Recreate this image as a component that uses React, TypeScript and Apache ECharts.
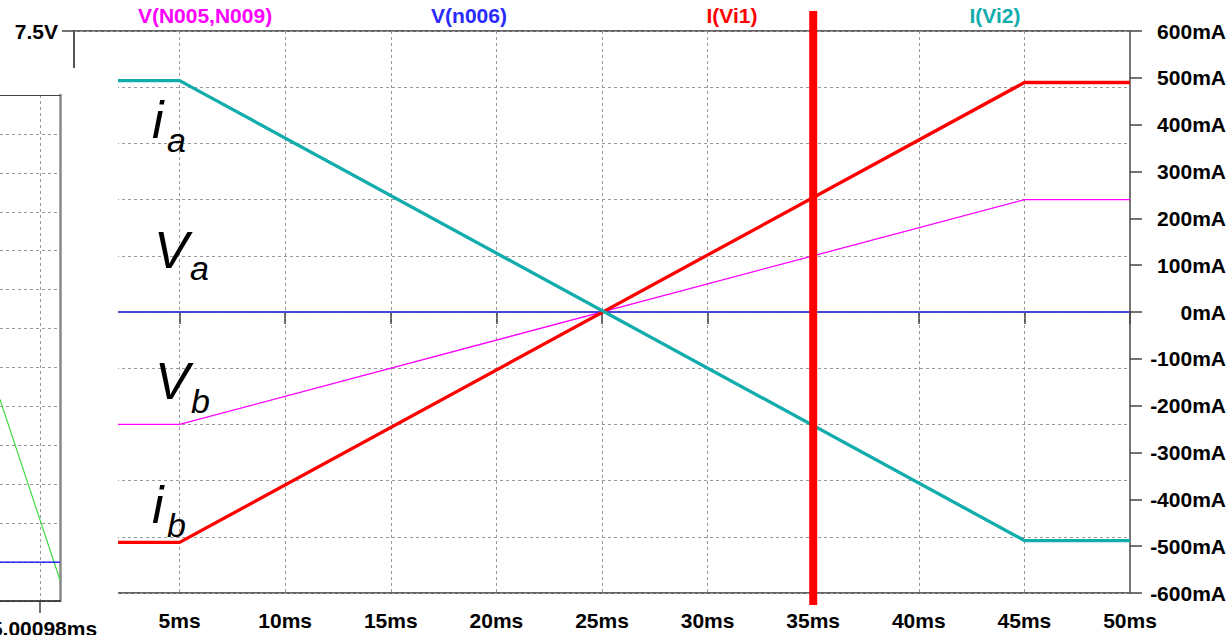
import React, { useEffect, useRef } from "react";
import * as echarts from "echarts";

// ---- data ----
const timeMs = [0, 5, 45, 50];
const vN005N009 = [-3, -3, 3, 3]; // V
const vN006 = [0, 0, 0, 0]; // V
const iVi1 = [-492, -492, 490, 490]; // mA
const iVi2 = [494, 494, -488, -488]; // mA
const cursorMs = 35;

const traceNames = ["V(N005,N009)", "V(n006)", "I(Vi1)", "I(Vi2)"];
const traceColors = ["#ff00ff", "#2a2aff", "#ff0000", "#12acac"];
const traceLabelX = [205, 469, 732, 995];

// second (overlapping) waveform window on the left
const miniTimeMs = [5.00058, 5.00118];
const miniGreen = [5.18, 0.54];
const miniBlue = [1, 1];
const miniTick = 5.00098;

const FONT = "'Liberation Sans', Arial, sans-serif";

function pairs(xs: number[], ys: number[]) {
  return xs.map((x, i) => [x, ys[i]]);
}

export default function App() {
  const ref = useRef<HTMLDivElement>(null);
  useEffect(() => {
    if (!ref.current) return;
    const chart = echarts.init(ref.current, undefined, { renderer: "svg" });
    const dash = { color: "#999", width: 1, type: [3, 3] as any };
    const lbl = { color: "#000", fontWeight: "bold" as const, fontSize: 21, fontFamily: FONT };

    const annot = (x: number, y: number, t: string, size: number) => ({
      type: "text",
      x,
      y,
      z: 30,
      style: {
        text: t,
        fontSize: size,
        fontStyle: "italic",
        fontFamily: FONT,
        fill: "#000",
        verticalAlign: "middle",
        align: "left",
      },
    });

    const option: any = {
      animation: false,
      backgroundColor: "#fff",
      textStyle: { fontFamily: FONT },
      grid: [
        {
          left: 74,
          right: 97,
          top: 31,
          bottom: 42,
          outerBoundsMode: "none",
          containLabel: false,
          show: true,
          borderColor: "#333",
          borderWidth: 1.5,
          z: 0,
        },
        {
          left: 0,
          width: 60,
          top: 95,
          bottom: 34,
          outerBoundsMode: "none",
          containLabel: false,
          show: true,
          borderWidth: 0,
          backgroundColor: "#fff",
          z: 20,
        },
      ],
      xAxis: [
        {
          type: "value",
          gridIndex: 0,
          min: 0,
          max: 50,
          interval: 5,
          axisLine: { show: true, lineStyle: { color: "#111", width: 1.5 } },
          axisTick: { show: true, inside: false, length: 12, lineStyle: { color: "#444", width: 1.5 } },
          axisLabel: { ...lbl, margin: 17, showMinLabel: false, formatter: (v: number) => (v === 0 ? "" : `${v}ms`) },
          splitLine: { show: true, lineStyle: dash },
        },
        {
          type: "value",
          gridIndex: 1,
          position: "bottom",
          min: miniTimeMs[0],
          max: miniTimeMs[1],
          z: 20,
          axisLine: { show: true, lineStyle: { color: "#111", width: 1.5 } },
          axisTick: { show: true, length: 12, customValues: [miniTick], lineStyle: { color: "#444", width: 1.5 } },
          axisLabel: {
            ...lbl,
            margin: 17,
            padding: [0, 0, 0, 8],
            customValues: [miniTick],
            formatter: (v: number) => `${v.toFixed(5)}ms`,
          },
          splitLine: { show: true, lineStyle: dash },
        },
        {
          type: "value",
          gridIndex: 1,
          position: "top",
          min: miniTimeMs[0],
          max: miniTimeMs[1],
          z: 20,
          axisLine: { show: true, lineStyle: { color: "#444", width: 1.2 } },
          axisTick: { show: false },
          axisLabel: { show: false },
          splitLine: { show: false },
        },
      ],
      yAxis: [
        {
          type: "value",
          gridIndex: 0,
          position: "left",
          min: -7.5,
          max: 7.5,
          interval: 1.5,
          axisLine: { show: true, lineStyle: { color: "#555", width: 2 } },
          axisTick: { show: true, length: 12, lineStyle: { color: "#444", width: 1.5 } },
          axisLabel: { ...lbl, margin: 16, formatter: (v: number) => (v === 7.5 ? `${v}V` : "") },
          splitLine: { show: true, lineStyle: dash },
        },
        {
          type: "value",
          gridIndex: 0,
          position: "right",
          min: -600,
          max: 600,
          interval: 100,
          axisLine: { show: true, lineStyle: { color: "#777", width: 2 } },
          axisTick: { show: true, length: 12, lineStyle: { color: "#444", width: 1.5 } },
          axisLabel: { ...lbl, margin: 96, align: "right", formatter: (v: number) => `${v}mA` },
          splitLine: { show: false },
        },
        {
          type: "value",
          gridIndex: 1,
          position: "right",
          min: 0,
          max: 13,
          interval: 1,
          z: 20,
          axisLine: { show: true, lineStyle: { color: "#888", width: 2.5 } },
          axisTick: { show: false },
          axisLabel: { show: false },
          splitLine: { show: true, lineStyle: dash },
        },
      ],
      series: [
        {
          name: traceNames[0],
          type: "line",
          xAxisIndex: 0,
          yAxisIndex: 0,
          data: pairs(timeMs, vN005N009),
          showSymbol: false,
          lineStyle: { color: traceColors[0], width: 1.3 },
          z: 3,
        },
        {
          name: traceNames[1],
          type: "line",
          xAxisIndex: 0,
          yAxisIndex: 0,
          data: pairs(timeMs, vN006),
          showSymbol: false,
          lineStyle: { color: "#4a4aff", width: 1.5 },
          z: 3,
        },
        {
          name: traceNames[2],
          type: "line",
          xAxisIndex: 0,
          yAxisIndex: 1,
          data: pairs(timeMs, iVi1),
          showSymbol: false,
          lineStyle: { color: traceColors[2], width: 3.3 },
          z: 4,
        },
        {
          name: traceNames[3],
          type: "line",
          xAxisIndex: 0,
          yAxisIndex: 1,
          data: pairs(timeMs, iVi2),
          showSymbol: false,
          lineStyle: { color: traceColors[3], width: 3.3 },
          z: 4,
        },
        {
          name: "cursor",
          type: "custom",
          xAxisIndex: 0,
          yAxisIndex: 1,
          clip: false,
          silent: true,
          z: 6,
          data: [[cursorMs, 0]],
          renderItem: (_p: any, api: any) => {
            const x = api.coord([api.value(0), 0])[0];
            return {
              type: "rect",
              shape: { x: x - 4, y: 11, width: 8, height: 594 },
              style: { fill: "#ff0000" },
            };
          },
        },
        {
          name: "mini-green",
          type: "line",
          xAxisIndex: 1,
          yAxisIndex: 2,
          data: pairs(miniTimeMs, miniGreen),
          showSymbol: false,
          lineStyle: { color: "#3ddc3d", width: 1.2 },
          z: 21,
        },
        {
          name: "mini-blue",
          type: "line",
          xAxisIndex: 1,
          yAxisIndex: 2,
          data: pairs(miniTimeMs, miniBlue),
          showSymbol: false,
          lineStyle: { color: "#0000ff", width: 1.2 },
          z: 21,
        },
      ],
      graphic: [
        {
          type: "rect",
          z: 10,
          shape: { x: 0, y: 68, width: 118, height: 567 },
          style: { fill: "#fff" },
          silent: true,
        },
        ...traceNames.map((n, i) => ({
          type: "text",
          x: traceLabelX[i],
          y: 15,
          z: 30,
          style: {
            text: n,
            fill: traceColors[i],
            fontSize: 21,
            fontWeight: "bold",
            fontFamily: FONT,
            align: "center",
            verticalAlign: "middle",
          },
        })),
        annot(152, 120, "i", 52),
        annot(167, 140, "a", 34),
        annot(154, 250, "V", 52),
        annot(190, 268, "a", 34),
        annot(155, 381, "V", 52),
        annot(191, 401, "b", 34),
        annot(152, 505, "i", 52),
        annot(167, 525, "b", 34),
      ],
    };
    chart.setOption(option);
    return () => chart.dispose();
  }, []);
  return (
    <div
      ref={ref}
      style={{ position: "absolute", left: 0, top: 0, width: 1227, height: 635, background: "#fff" }}
    />
  );
}
